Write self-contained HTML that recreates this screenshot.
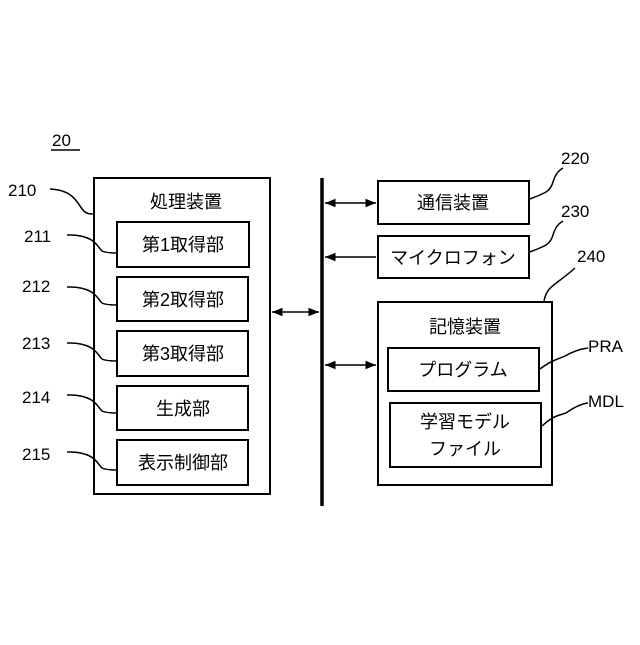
<!DOCTYPE html>
<html><head><meta charset="utf-8"><style>
body{margin:0;background:#fff}
svg text{font-family:"Liberation Sans","Noto Sans CJK JP",sans-serif;fill:#000}
</style></head><body>
<svg width="640" height="640" viewBox="0 0 640 640" xmlns="http://www.w3.org/2000/svg">
<defs>
<marker id="a" viewBox="0 0 10 10" refX="10" refY="5" markerWidth="7" markerHeight="7" orient="auto-start-reverse"><path d="M0,1 L10,5 L0,9 Z" fill="#000"/></marker>
</defs>
<g fill="none" stroke="#000" stroke-width="2">
<rect x="94" y="178" width="176" height="316"/>
<rect x="117" y="222" width="132" height="45"/>
<rect x="117" y="277" width="131" height="44"/>
<rect x="117" y="331" width="131" height="45"/>
<rect x="117" y="386" width="131" height="44"/>
<rect x="117" y="440" width="131" height="45"/>
<rect x="378" y="181" width="151" height="43"/>
<rect x="378" y="236" width="151" height="42"/>
<rect x="378" y="302" width="174" height="183"/>
<rect x="388" y="348" width="151" height="43"/>
<rect x="390" y="403" width="151" height="64"/>
</g>
<line x1="322" y1="178" x2="322" y2="506" stroke="#000" stroke-width="3.5"/>
<g stroke="#000" stroke-width="1.5" fill="none">
<line x1="272" y1="312" x2="319" y2="312" marker-start="url(#a)" marker-end="url(#a)"/>
<line x1="325" y1="203" x2="376" y2="203" marker-start="url(#a)" marker-end="url(#a)"/>
<line x1="376" y1="257" x2="325" y2="257" marker-end="url(#a)"/>
<line x1="325" y1="365" x2="376" y2="365" marker-start="url(#a)" marker-end="url(#a)"/>
<path d="M50,189 C75,190 78,205 83,210 C86,214 90,214 94,214"/>
<path d="M67,235 C95,234 98,248 102,251 C106,253 112,253 117,253"/>
<path d="M67,287 C95,286 98,300 102,303 C106,305 112,305 117,305"/>
<path d="M67,343 C95,342 98,356 102,359 C106,361 112,361 117,361"/>
<path d="M67,395 C95,394 98,408 102,411 C106,413 112,413 117,413"/>
<path d="M67,452 C95,451 98,465 102,468 C106,470 112,470 117,470"/>
<path d="M530,199 C545,193 550,192 553,182 C556,172 560,170 563,168"/>
<path d="M530,252 C545,246 550,245 553,235 C556,225 560,223 563,221"/>
<path d="M544,301 C546,291 550,288 555,284 C560,280 566,276 575,268"/>
<path d="M540,369 C552,360 556,360 565,356 C572,352 580,349 588,348"/>
<path d="M542,426 C553,416 557,416 566,413 C573,408 580,404 588,403"/>
</g>
<line x1="51" y1="150" x2="80" y2="150" stroke="#000" stroke-width="1.5"/>
<g font-size="17">
<text x="52" y="146">20</text>
<text x="8" y="196">210</text>
<text x="24" y="242">211</text>
<text x="22" y="292">212</text>
<text x="22" y="349">213</text>
<text x="22" y="403">214</text>
<text x="22" y="460">215</text>
<text x="561" y="164">220</text>
<text x="561" y="217">230</text>
<text x="577" y="262">240</text>
<text x="588" y="352">PRA</text>
<text x="588" y="407">MDL</text>
</g>
<g font-size="18" text-anchor="middle">
<text x="186" y="208">処理装置</text>
<text x="183" y="251">第1取得部</text>
<text x="183" y="306">第2取得部</text>
<text x="183" y="360">第3取得部</text>
<text x="183" y="415">生成部</text>
<text x="183" y="469">表示制御部</text>
<text x="453" y="209">通信装置</text>
<text x="453" y="264">マイクロフォン</text>
<text x="465" y="333">記憶装置</text>
<text x="463" y="376">プログラム</text>
<text x="465" y="428">学習モデル</text>
<text x="465" y="455">ファイル</text>
</g>
</svg>
</body></html>
